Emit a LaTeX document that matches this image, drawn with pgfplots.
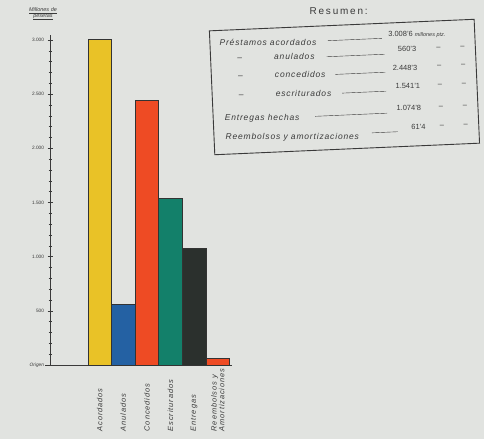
\documentclass[border=0pt]{standalone}
\usepackage{fontspec}
\setmainfont{Liberation Sans}
\usepackage{pgfplots}
\pgfplotsset{compat=1.18}

\definecolor{paper}{HTML}{E1E3E0}
\definecolor{cyellow}{HTML}{E9C227}
\definecolor{cblue}{HTML}{2461A3}
\definecolor{cred}{HTML}{EE4B24}
\definecolor{cgreen}{HTML}{13806A}
\definecolor{cdark}{HTML}{2B302D}
\definecolor{ink}{HTML}{3A3A3A}

\newcommand{\lbl}{\fontsize{7.5}{8}\selectfont\itshape\addfontfeatures{LetterSpace=12}}
\newcommand{\sumfont}{\fontsize{8.5}{9}\selectfont\itshape\addfontfeatures{LetterSpace=10}}
\newcommand{\numfont}{\fontsize{7.5}{8}\selectfont}

\begin{document}
\begin{tikzpicture}[x=1bp,y=1bp]
\useasboundingbox (0,0) rectangle (484,439);
\fill[paper] (0,0) rectangle (484,439);

\begin{axis}[
    at={(50bp,74bp)}, anchor=south west,
    scale only axis,
    width=182bp, height=330.4bp,
    xmin=-1.1, xmax=6.6,
    ymin=0, ymax=3050,
    axis lines*=left,
    axis line style={ink, line width=0.7bp},
    ybar, bar width=1, bar shift=0pt,
    ytick={0,500,...,3000},
    yticklabels={\textit{Origen},500,1.000,1.500,2.000,2.500,3.000},
    minor y tick num=4,
    major tick length=5bp, minor tick length=3bp,
    tick align=center,
    every tick/.style={ink, line width=0.5bp},
    yticklabel style={font=\fontsize{4.8}{5}\selectfont, text=ink},
    xtick={1,...,6},
    xticklabels={Acordados,Anulados,Concedidos,Escriturados,Entregas,{Reembolsos y\\Amortizaciones}},
    x tick style={draw=none},
    xticklabel style={yshift=-64bp, rotate=90, anchor=west, font=\lbl, text=ink, align=left, inner sep=0pt},
    clip=false,
]
\addplot[fill=cyellow, draw=black!80, line width=0.5bp] coordinates {(1,3008.6)};
\addplot[fill=cblue, draw=black!80, line width=0.5bp] coordinates {(2,560.3)};
\addplot[fill=cred, draw=black!80, line width=0.5bp] coordinates {(3,2448.3)};
\addplot[fill=cgreen, draw=black!80, line width=0.5bp] coordinates {(4,1541.1)};
\addplot[fill=cdark, draw=black!80, line width=0.5bp] coordinates {(5,1074.8)};
\addplot[fill=cred, draw=black!80, line width=0.5bp] coordinates {(6,61.4)};
\end{axis}

% baseline stub left of the y axis
\draw[ink, line width=0.7bp] (45,74) -- (50,74);

% axis title
\node[align=center, text=ink, font=\fontsize{5.5}{6.5}\selectfont\itshape, inner sep=0pt] at (43,425)
  {\underline{Millones de}\\[-1pt]\underline{pesetas}};

% summary box (image y -> 439 - y)
\begin{scope}[rotate around={2.5:(345,351)}, text=ink]
\node[font=\fontsize{10}{11}\selectfont\addfontfeatures{LetterSpace=18}] at (342,428) {Resumen:};
\draw[ink, line width=0.9bp] (212,414) rectangle (477,290);
% row 1
\node[anchor=base west, font=\sumfont] at (218,399) {Préstamos acordados};
\draw[ink, line width=0.4bp] (330,399) -- (384,399);
\node[anchor=base west, font=\numfont] at (387,401) {3.008'6 \fontsize{5.5}{6}\selectfont\itshape millones ptz.};
% row 2
\node[anchor=base, font=\sumfont] at (241,383) {--};
\node[anchor=base west, font=\sumfont] at (272,383) {anulados};
\draw[ink, line width=0.4bp] (328,383) -- (386,383);
\node[anchor=base west, font=\numfont] at (396,385) {560'3};
\node[anchor=base, font=\numfont] at (440,385) {--};
\node[anchor=base, font=\numfont] at (464,385) {--};
% row 3
\node[anchor=base, font=\sumfont] at (241,365) {--};
\node[anchor=base west, font=\sumfont] at (272,365) {concedidos};
\draw[ink, line width=0.4bp] (336,365) -- (386,365);
\node[anchor=base west, font=\numfont] at (390,367) {2.448'3};
\node[anchor=base, font=\numfont] at (440,367) {--};
\node[anchor=base, font=\numfont] at (464,367) {--};
% row 4
\node[anchor=base, font=\sumfont] at (241,346) {--};
\node[anchor=base west, font=\sumfont] at (272,346) {escriturados};
\draw[ink, line width=0.4bp] (342,346) -- (386,346);
\node[anchor=base west, font=\numfont] at (392,348) {1.541'1};
\node[anchor=base, font=\numfont] at (440,348) {--};
\node[anchor=base, font=\numfont] at (464,348) {--};
% row 5
\node[anchor=base west, font=\sumfont] at (220,324) {Entregas hechas};
\draw[ink, line width=0.4bp] (314,324) -- (386,324);
\node[anchor=base west, font=\numfont] at (392,326) {1.074'8};
\node[anchor=base, font=\numfont] at (440,326) {--};
\node[anchor=base, font=\numfont] at (464,326) {--};
% row 6
\node[anchor=base west, font=\sumfont] at (220,305) {Reembolsos y amortizaciones};
\draw[ink, line width=0.4bp] (370,305) -- (396,305);
\node[anchor=base west, font=\numfont] at (406,307) {61'4};
\node[anchor=base, font=\numfont] at (440,307) {--};
\node[anchor=base, font=\numfont] at (464,307) {--};
\end{scope}
\end{tikzpicture}
\end{document}
